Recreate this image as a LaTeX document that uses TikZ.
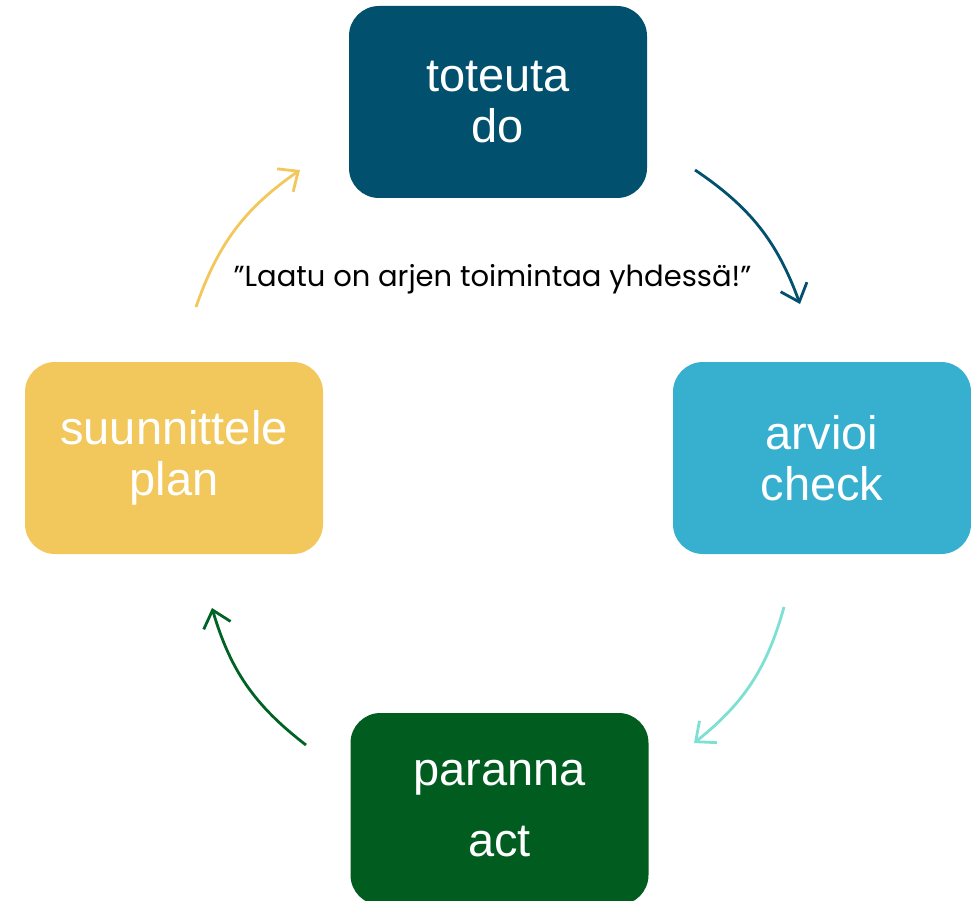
\documentclass[tikz,border=0pt]{standalone}
\usepackage{fontspec}
\setmainfont{Liberation Sans}
\newfontfamily\quotefont{Poppins}
\usetikzlibrary{arrows.meta}
\definecolor{cdo}{HTML}{00506E}
\definecolor{ccheck}{HTML}{37AFCF}
\definecolor{cplan}{HTML}{F2C75C}
\definecolor{cact}{HTML}{005C1F}
\definecolor{cteal}{HTML}{7EE0D2}
\definecolor{cgreen}{HTML}{006325}
\tikzset{
  phasebox/.style={rounded corners=30pt, minimum width=298pt, minimum height=192pt,
    inner sep=0pt, text=white, align=center, font=\fontsize{47}{51}\selectfont},
  cyclearrow/.style={line width=2.8pt, -{Straight Barb[length=16pt,width=28pt,line width=2.8pt]}, bend left=18}
}
\begin{document}
\begin{tikzpicture}[x=1pt,y=-1pt]
\useasboundingbox (0,0) rectangle (971,901);
\node[phasebox, fill=cdo] (do) at (498,102) {toteuta\\do};
\node[phasebox, fill=ccheck] (check) at (822,458) {arvioi\\check};
\node[phasebox, fill=cplan] (plan) at (174,458) {suunnittele\\plan};
\node[phasebox, fill=cact] (act) at (499.5,809) {paranna\\[20pt]act};
\node[anchor=base, font=\quotefont\fontsize{29}{33}\selectfont, inner sep=0pt] (quote) at (492.5,287) {”Laatu on arjen toimintaa yhdessä!”};
\coordinate (a1s) at (196,307);
\coordinate (a1e) at (300,170);
\coordinate (a2s) at (695,170);
\coordinate (a2e) at (800,304);
\coordinate (a3s) at (784,607);
\coordinate (a3e) at (694,743);
\coordinate (a4s) at (306,745);
\coordinate (a4e) at (212,608);
\draw[cyclearrow, cplan] (a1s) to (a1e);
\draw[cyclearrow, cdo] (a2s) to (a2e);
\draw[cyclearrow, cteal] (a3s) to (a3e);
\draw[cyclearrow, cgreen] (a4s) to (a4e);
\end{tikzpicture}
\end{document}
